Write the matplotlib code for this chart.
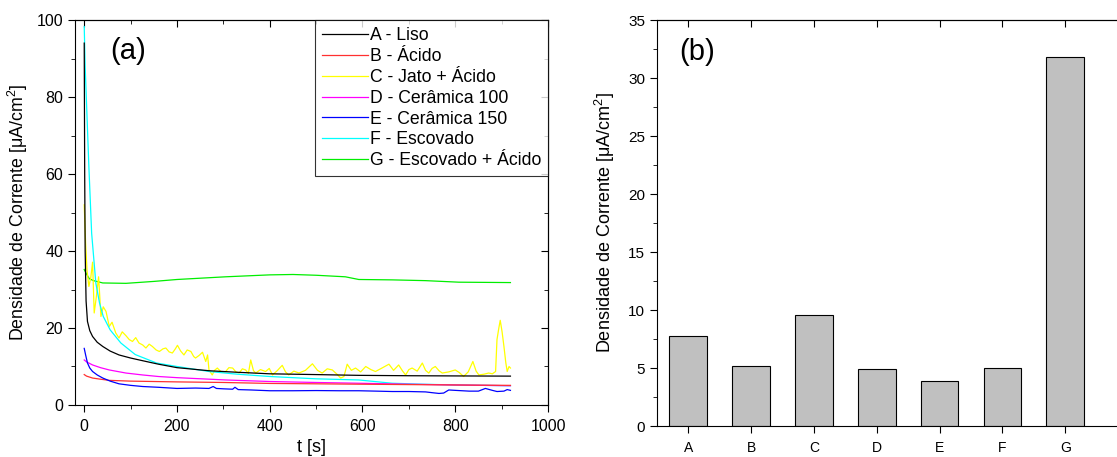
import numpy as np
import matplotlib
matplotlib.use("Agg")
import matplotlib.pyplot as plt
import matplotlib.ticker as ticker

plt.rcParams['font.family'] = ['Liberation Sans', 'DejaVu Sans']
plt.rcParams['mathtext.fontset'] = 'custom'
plt.rcParams['mathtext.rm'] = 'Liberation Sans'
plt.rcParams['mathtext.it'] = 'Liberation Sans:italic'

# ---- dados (a): curvas de corrente x tempo ----
t_A = [0, 1, 2, 4, 7, 12, 18, 28, 40, 56, 75, 100, 126, 160, 200, 269, 330, 400, 500, 592, 700, 800, 919]
i_A = [94, 60, 40, 27, 21.7, 19.3, 17.8, 16.3, 15.2, 14.0, 13.0, 12.2, 11.5, 10.6, 9.7, 8.9, 8.5, 8.1, 7.9, 7.7, 7.6, 7.55, 7.5]

t_B = [0, 5, 18, 35, 54, 100, 200, 300, 400, 500, 592, 700, 800, 919]
i_B = [7.9, 7.5, 7.0, 6.7, 6.4, 6.2, 6.0, 5.85, 5.6, 5.5, 5.4, 5.3, 5.2, 5.1]

t_C = [0, 3, 6, 10, 14, 18, 21.5, 26, 31, 36, 41, 47, 54, 60, 68, 75, 82, 90, 97, 104, 111, 118, 126,
       133, 140, 147, 155, 162, 170, 176, 183, 190, 196, 201, 208, 215, 222, 230, 236, 240, 248, 255,
       262, 266, 269, 276, 281, 287, 296, 305, 312, 320, 327, 334, 341, 348, 354, 359, 365, 370, 380,
       391, 399, 406, 416, 427, 434, 441, 452, 463, 477, 492, 503, 513, 524, 535, 545, 553, 560, 567,
       576, 585, 596, 607, 618, 628, 642, 657, 667, 678, 686, 693, 700, 707, 718, 729, 736, 743, 750,
       757, 765, 772, 786, 800, 809, 818, 828, 838, 845, 851, 862, 872, 880, 887, 890, 894, 897, 901,
       905, 909, 912, 916, 919]
i_C = [52, 42, 35, 30.8, 33, 37.1, 23.9, 28, 33.3, 23.0, 25.5, 24.3, 20.4, 21.5, 18.7, 17.4, 19.0, 18.0,
       17.0, 16.5, 17.5, 16.1, 15.6, 14.8, 15.8, 15.2, 14.3, 13.9, 14.6, 14.8, 13.8, 13.5, 14.5, 15.5,
       14.0, 13.0, 14.3, 13.9, 12.6, 12.2, 12.9, 13.7, 11.3, 13.0, 9.1, 7.8, 9.0, 9.6, 8.5, 8.7, 9.7,
       9.6, 8.6, 8.3, 9.4, 9.1, 8.2, 11.7, 8.9, 8.3, 9.2, 8.7, 9.5, 7.8, 8.9, 10.3, 8.6, 7.8, 8.8, 8.3,
       9.0, 10.7, 9.0, 8.3, 9.4, 9.1, 8.0, 7.0, 7.4, 10.6, 9.0, 9.6, 8.6, 10.0, 9.2, 8.7, 9.6, 10.6, 9.0,
       10.4, 8.9, 7.8, 9.2, 9.6, 8.8, 10.9, 9.0, 8.3, 9.5, 10.0, 8.9, 8.3, 8.6, 9.1, 8.4, 7.4, 8.6, 11.3,
       8.8, 7.8, 8.0, 8.3, 8.1, 8.7, 17.0, 20.0, 22.0, 19.0, 15.2, 11.0, 8.7, 10.0, 9.6]

t_D = [0, 5, 18, 35, 54, 90, 126, 160, 200, 305, 400, 500, 592, 700, 800, 919]
i_D = [11.7, 11.2, 10.4, 9.7, 9.1, 8.3, 7.8, 7.4, 7.1, 6.5, 6.1, 5.85, 5.65, 5.4, 5.2, 5.0]

t_E = [0, 3, 7, 12, 18, 28, 40, 56, 75, 100, 126, 160, 200, 240, 269, 278, 285, 300, 320, 325, 332,
       360, 400, 450, 500, 550, 592, 630, 664, 700, 736, 750, 765, 775, 786, 800, 830, 850, 865, 880,
       890, 905, 912, 919]
i_E = [14.7, 13.0, 10.9, 9.6, 8.7, 7.8, 7.0, 6.2, 5.5, 5.1, 4.8, 4.6, 4.3, 4.4, 4.3, 4.8, 4.3, 4.2,
       4.1, 4.6, 4.0, 3.9, 3.7, 3.7, 3.75, 3.7, 3.7, 3.6, 3.5, 3.5, 3.4, 3.2, 3.0, 3.1, 3.9, 3.8, 3.6,
       3.6, 4.3, 3.8, 3.5, 3.6, 4.0, 3.8]

t_F = [0, 2, 6, 10, 16, 25, 33, 41, 56, 79, 110, 156, 200, 269, 330, 400, 500, 592, 664, 730, 800, 919]
i_F = [98.3, 88, 75, 62, 44.6, 31.7, 26.5, 23.0, 19.5, 16.1, 13.1, 10.9, 10.0, 8.7, 8.0, 7.4, 6.8,
       6.5, 5.65, 5.4, 5.2, 5.0]

t_G = [0, 5, 11, 20, 40, 90, 150, 200, 305, 400, 450, 500, 563, 592, 664, 736, 808, 919]
i_G = [35.2, 34.0, 32.8, 32.3, 31.7, 31.6, 32.1, 32.6, 33.3, 33.8, 33.9, 33.7, 33.3, 32.6, 32.5, 32.3,
       31.9, 31.8]

nomes = ['A - Liso', 'B - Ácido', 'C - Jato + Ácido', 'D - Cerâmica 100',
         'E - Cerâmica 150', 'F - Escovado', 'G - Escovado + Ácido']
cores = ['black', '#ff3030', '#ffff00', '#ff00ff', '#0000ff', '#00ffff', '#00ee00']

# ---- dados (b): barras ----
amostras = ['A', 'B', 'C', 'D', 'E', 'F', 'G']
densidade = [7.72, 5.19, 9.6, 4.95, 3.89, 4.99, 31.85]

fig = plt.figure(figsize=(11.17, 4.57), dpi=100)

# ---------------- (a) ----------------
ax1 = fig.add_axes([0.0671, 0.1138, 0.4235, 0.8424])
curvas = [(t_A, i_A), (t_B, i_B), (t_C, i_C), (t_D, i_D), (t_E, i_E), (t_F, i_F), (t_G, i_G)]
ordem = [6, 2, 5, 0, 3, 1, 4]
linhas = {}
for k in ordem:
    t, i = curvas[k]
    ln, = ax1.plot(t, i, color=cores[k], lw=0.9, label=nomes[k])
    linhas[k] = ln

ax1.set_xlim(-20, 1000)
ax1.set_ylim(0, 100)
ax1.xaxis.set_major_locator(ticker.MultipleLocator(200))
ax1.xaxis.set_minor_locator(ticker.MultipleLocator(100))
ax1.yaxis.set_major_locator(ticker.MultipleLocator(20))
ax1.yaxis.set_minor_locator(ticker.MultipleLocator(10))
ax1.tick_params(which='both', direction='out', labelsize=11.5)
ax1.tick_params(which='major', length=5)
ax1.tick_params(which='minor', length=3)
ax1.tick_params(axis='x', pad=5)
ax1.set_xlabel('t [s]', fontsize=13, labelpad=4)
ax1.set_ylabel('Densidade de Corrente [μA/cm$^2$]', fontsize=12.8, labelpad=5)

top1 = ax1.secondary_xaxis('top')
top1.xaxis.set_major_locator(ticker.MultipleLocator(200))
top1.xaxis.set_minor_locator(ticker.MultipleLocator(100))
top1.tick_params(which='both', direction='in', labeltop=False)
top1.tick_params(which='major', length=5)
top1.tick_params(which='minor', length=3)
right1 = ax1.secondary_yaxis('right')
right1.yaxis.set_major_locator(ticker.MultipleLocator(20))
right1.yaxis.set_minor_locator(ticker.MultipleLocator(10))
right1.tick_params(which='both', direction='in', labelright=False)
right1.tick_params(which='major', length=5)
right1.tick_params(which='minor', length=3)

leg = ax1.legend([linhas[k] for k in range(7)], nomes, loc='upper right',
                 bbox_to_anchor=(1.0, 1.0), fontsize=12.7, frameon=True, fancybox=False,
                 handlelength=2.6, handletextpad=0.1, labelspacing=0.22,
                 borderpad=0.4, borderaxespad=0.0)
leg.get_frame().set_edgecolor('black')
leg.get_frame().set_linewidth(0.8)
ax1.text(0.075, 0.955, '(a)', transform=ax1.transAxes, fontsize=21, va='top')

# ---------------- (b) ----------------
ax2 = fig.add_axes([0.588, 0.0678, 0.45, 0.8884])
pos = np.arange(1, len(amostras) + 1)
ax2.bar(pos, densidade, width=0.6, color='#c0c0c0', edgecolor='black', linewidth=0.8)
ax2.set_xlim(0.5, 8.5)
ax2.set_ylim(0, 35)
ax2.set_xticks(pos)
ax2.set_xticklabels(amostras)
ax2.yaxis.set_major_locator(ticker.MultipleLocator(5))
ax2.yaxis.set_minor_locator(ticker.MultipleLocator(2.5))
ax2.tick_params(which='both', direction='out', labelsize=10)
ax2.tick_params(axis='y', labelsize=11)
ax2.tick_params(which='major', length=5)
ax2.tick_params(which='minor', length=3)
ax2.tick_params(axis='x', pad=6)
ax2.set_ylabel('Densidade de Corrente [μA/cm$^2$]', fontsize=13, labelpad=8)
top2 = ax2.secondary_xaxis('top')
top2.set_xticks(pos)
top2.tick_params(direction='in', labeltop=False, length=5)
ax2.text(0.045, 0.955, '(b)', transform=ax2.transAxes, fontsize=21, va='top')

fig.savefig('out.png', dpi=100)
